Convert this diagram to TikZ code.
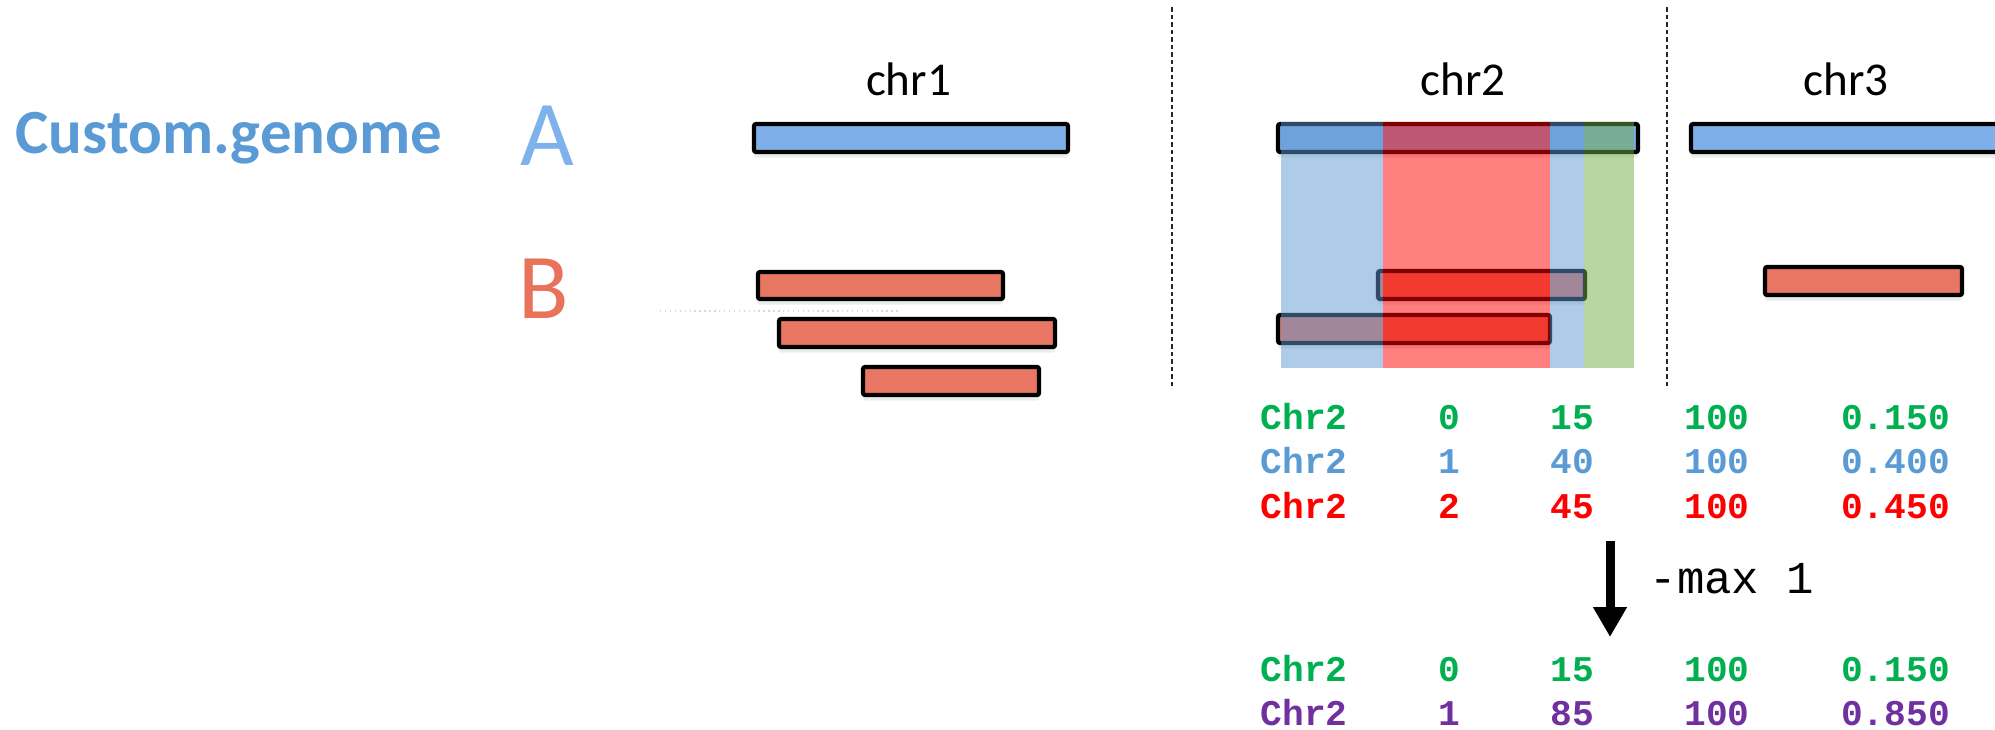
\documentclass[tikz,border=0pt]{standalone}
\usepackage{fontspec}
\setmainfont{Carlito}
\setmonofont{Liberation Mono}
\usepackage{xcolor}
\usetikzlibrary{
    arrows.meta,
    positioning,
    shadows
}
\definecolor{genblue}{RGB}{91,155,213}
\definecolor{letA}{RGB}{126,178,236}
\definecolor{letB}{RGB}{232,115,90}
\definecolor{barA}{RGB}{126,175,232}
\definecolor{barB}{RGB}{232,118,98}
\definecolor{shBlue}{RGB}{93,151,209}
\definecolor{shRed}{RGB}{255,0,0}
\definecolor{shGreen}{RGB}{113,173,69}
\definecolor{tGreen}{RGB}{0,176,80}
\definecolor{tBlue}{RGB}{91,155,213}
\definecolor{tRed}{RGB}{255,0,0}
\definecolor{tPurple}{RGB}{112,48,160}
\newcommand{\tabfont}{\ttfamily\bfseries\fontsize{10.3}{12}\selectfont}

\begin{document}
\begin{tikzpicture}[
        abar/.style={draw=black, line width=1.2pt, rounded corners=0.6pt, fill=barA,
            drop shadow={shadow xshift=0pt, shadow yshift=-1.6pt, opacity=0.15}},
        bbar/.style={abar, fill=barB},
        shade/.style={fill opacity=0.5},
        sep/.style={draw=black!85, line width=0.5pt, dash pattern=on 0.045cm off 0.03cm},
        letter/.style={font=\fontsize{26.4}{28}\selectfont, anchor=base, inner sep=0},
        chrlabel/.style={font=\fontsize{13.4}{15}\selectfont, anchor=base, inner sep=0},
        tab/.style={font=\tabfont, anchor=base, inner sep=0},
        arrow/.style={-{Triangle[length=3mm, width=3.2mm]}, line width=0.9mm}
    ]
        \useasboundingbox (0,0) rectangle (19.95,7.29);

        % Title and set letters
        \node[anchor=base west, inner sep=0, text=genblue,
              font=\bfseries\fontsize{17.9}{20}\selectfont] (title) at (0.15,5.76) {Custom.genome};
        \node[letter, text=letA] (setA) at (5.47,5.64) {A};
        \node[letter, text=letB] (setB) at (5.44,4.11) {B};

        % Chromosome labels
        \node[chrlabel] (chr1) at (9.085,6.34) {chr1};
        \node[chrlabel] (chr2) at (14.63,6.34) {chr2};
        \node[chrlabel] (chr3) at (18.46,6.34) {chr3};

        % Separators
        \draw[sep] (11.72,7.22) -- (11.72,3.42);
        \draw[sep] (16.67,7.22) -- (16.67,3.42);
        \draw[gray!30, densely dotted, line width=0.4pt] (6.60,4.18) -- (9.00,4.18);

        % chr1
        \draw[abar] (7.54,5.77) rectangle (10.68,6.05);
        \draw[bbar] (7.58,4.30) rectangle (10.03,4.57);
        \draw[bbar] (7.79,3.82) rectangle (10.55,4.10);
        \draw[bbar] (8.63,3.34) rectangle (10.39,3.62);

        % chr2
        \draw[abar] (12.78,5.77) rectangle (16.38,6.05);
        \draw[bbar] (13.78,4.30) rectangle (15.85,4.58);
        \draw[bbar] (12.78,3.86) rectangle (15.50,4.14);

        % Coverage bins over chr2
        \fill[shade, shBlue] (12.81,3.61) rectangle (13.83,6.07);
        \fill[shade, shRed] (13.83,3.61) rectangle (15.50,6.07);
        \fill[shade, shBlue] (15.50,3.61) rectangle (15.84,6.07);
        \fill[shade, shGreen] (15.84,3.61) rectangle (16.34,6.07);

        % chr3
        \draw[abar] (16.91,5.77) rectangle (20.30,6.05);
        \draw[bbar] (17.65,4.34) rectangle (19.62,4.62);

        % Output table
        \node[tab, anchor=base west, text=tGreen] (r1a) at (12.60,3.00) {Chr2};
        \node[tab, text=tGreen] (r1b) at (14.49,3.00) {0};
        \node[tab, text=tGreen] (r1c) at (15.72,3.00) {15};
        \node[tab, text=tGreen] (r1d) at (17.17,3.00) {100};
        \node[tab, text=tGreen] (r1e) at (18.955,3.00) {0.150};

        \node[tab, anchor=base west, text=tBlue] (r2a) at (12.60,2.555) {Chr2};
        \node[tab, text=tBlue] (r2b) at (14.49,2.555) {1};
        \node[tab, text=tBlue] (r2c) at (15.72,2.555) {40};
        \node[tab, text=tBlue] (r2d) at (17.17,2.555) {100};
        \node[tab, text=tBlue] (r2e) at (18.955,2.555) {0.400};

        \node[tab, anchor=base west, text=tRed] (r3a) at (12.60,2.11) {Chr2};
        \node[tab, text=tRed] (r3b) at (14.49,2.11) {2};
        \node[tab, text=tRed] (r3c) at (15.72,2.11) {45};
        \node[tab, text=tRed] (r3d) at (17.17,2.11) {100};
        \node[tab, text=tRed] (r3e) at (18.955,2.11) {0.450};

        % Merge step
        \coordinate (arrtop) at (16.10,1.88);
        \coordinate (arrbot) at (16.10,0.92);
        \draw[arrow] (arrtop) -- (arrbot);
        \node[anchor=base west, inner sep=0, font=\ttfamily\fontsize{13}{15}\selectfont] (maxlbl) at (16.49,1.36) {-max 1};

        % Merged table
        \node[tab, anchor=base west, text=tGreen] (m1a) at (12.60,0.48) {Chr2};
        \node[tab, text=tGreen] (m1b) at (14.49,0.48) {0};
        \node[tab, text=tGreen] (m1c) at (15.72,0.48) {15};
        \node[tab, text=tGreen] (m1d) at (17.17,0.48) {100};
        \node[tab, text=tGreen] (m1e) at (18.955,0.48) {0.150};

        \node[tab, anchor=base west, text=tPurple] (m2a) at (12.60,0.035) {Chr2};
        \node[tab, text=tPurple] (m2b) at (14.49,0.035) {1};
        \node[tab, text=tPurple] (m2c) at (15.72,0.035) {85};
        \node[tab, text=tPurple] (m2d) at (17.17,0.035) {100};
        \node[tab, text=tPurple] (m2e) at (18.955,0.035) {0.850};
    \end{tikzpicture}
\end{document}
